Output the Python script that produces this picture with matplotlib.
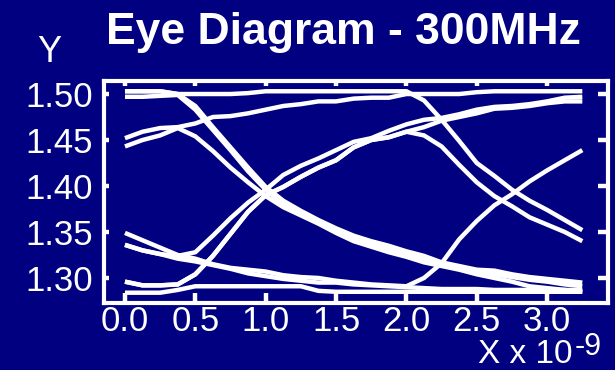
import matplotlib
matplotlib.use("Agg")
import matplotlib.pyplot as plt

# sample times (units of 1e-9 s)
t_ns = [0.0, 0.125, 0.25, 0.375, 0.5, 0.625, 0.75, 0.875, 1.0, 1.125, 1.25,
        1.375, 1.5, 1.625, 1.75, 1.875, 2.0, 2.125, 2.25, 2.375, 2.5, 2.625,
        2.75, 2.875, 3.0, 3.125, 3.25]

# one voltage trace per bit pattern
v_hhl = [1.503, 1.503, 1.503, 1.500, 1.500, 1.500, 1.500, 1.501, 1.503, 1.503,
         1.503, 1.503, 1.503, 1.503, 1.503, 1.503, 1.503, 1.493, 1.472, 1.449,
         1.425, 1.411, 1.396, 1.384, 1.374, 1.363, 1.352]
v_hll_a = [1.503, 1.503, 1.503, 1.500, 1.487, 1.464, 1.442, 1.420, 1.399, 1.384,
           1.373, 1.363, 1.354, 1.346, 1.340, 1.335, 1.329, 1.324, 1.317, 1.313,
           1.309, 1.308, 1.304, 1.301, 1.299, 1.297, 1.295]
v_hll_b = [1.497, 1.497, 1.498, 1.499, 1.483, 1.461, 1.439, 1.416, 1.396, 1.380,
           1.370, 1.360, 1.351, 1.342, 1.337, 1.332, 1.326, 1.321, 1.315, 1.311,
           1.307, 1.304, 1.301, 1.298, 1.296, 1.293, 1.291]
v_rhh = [1.452, 1.459, 1.463, 1.464, 1.468, 1.475, 1.476, 1.479, 1.483, 1.487,
         1.489, 1.492, 1.492, 1.495, 1.496, 1.496, 1.500, 1.500, 1.500, 1.500,
         1.502, 1.503, 1.503, 1.503, 1.503, 1.503, 1.503]
v_rll = [1.443, 1.450, 1.455, 1.463, 1.454, 1.438, 1.420, 1.404, 1.389, 1.377,
         1.368, 1.359, 1.349, 1.340, 1.334, 1.328, 1.323, 1.317, 1.313, 1.309,
         1.304, 1.300, 1.296, 1.291, 1.289, 1.287, 1.285]
v_flh = [1.349, 1.341, 1.333, 1.325, 1.321, 1.315, 1.311, 1.309, 1.307, 1.303,
         1.301, 1.300, 1.297, 1.295, 1.293, 1.292, 1.291, 1.300, 1.316, 1.342,
         1.362, 1.379, 1.391, 1.405, 1.417, 1.428, 1.439]
v_fhh = [1.336, 1.330, 1.326, 1.324, 1.328, 1.346, 1.365, 1.382, 1.396, 1.412,
         1.422, 1.430, 1.439, 1.448, 1.452, 1.460, 1.467, 1.472, 1.474, 1.478,
         1.483, 1.486, 1.487, 1.489, 1.492, 1.496, 1.497]
v_fll = [1.336, 1.330, 1.326, 1.321, 1.318, 1.314, 1.310, 1.305, 1.302, 1.299,
         1.297, 1.295, 1.295, 1.293, 1.292, 1.291, 1.290, 1.289, 1.288, 1.288,
         1.288, 1.287, 1.287, 1.287, 1.287, 1.287, 1.287]
v_lhh = [1.296, 1.292, 1.292, 1.293, 1.304, 1.324, 1.348, 1.372, 1.390, 1.399,
         1.410, 1.420, 1.428, 1.442, 1.450, 1.453, 1.459, 1.464, 1.471, 1.475,
         1.479, 1.484, 1.485, 1.487, 1.490, 1.492, 1.492]
v_lhl = [1.296, 1.292, 1.292, 1.293, 1.304, 1.324, 1.348, 1.372, 1.390, 1.399,
         1.410, 1.420, 1.428, 1.442, 1.450, 1.453, 1.459, 1.455, 1.443, 1.423,
         1.404, 1.389, 1.378, 1.366, 1.358, 1.350, 1.340]
v_lll = [1.284, 1.284, 1.284, 1.287, 1.291, 1.291, 1.291, 1.291, 1.291, 1.291,
         1.291, 1.286, 1.285, 1.285, 1.285, 1.285, 1.285, 1.285, 1.285, 1.285,
         1.285, 1.285, 1.285, 1.285, 1.285, 1.285, 1.285]

traces = [v_hhl, v_hll_a, v_hll_b, v_rhh, v_rll, v_flh, v_fhh, v_fll,
          v_lhh, v_lhl, v_lll]

x_ticks = [0.0, 0.5, 1.0, 1.5, 2.0, 2.5, 3.0]
y_ticks = [1.30, 1.35, 1.40, 1.45, 1.50]

NAVY = "#000080"
FONT = "Liberation Sans"

fig = plt.figure(figsize=(6.15, 3.70), dpi=100)
fig.patch.set_facecolor(NAVY)
W, H = 615.0, 370.0
ax = fig.add_axes([104 / W, 1 - 303 / H, (607.5 - 104) / W, (303 - 80.5) / H])
ax.set_facecolor(NAVY)

for v in traces:
    ax.plot(t_ns, v, color="white", lw=3.2, solid_capstyle="butt",
            solid_joinstyle="miter")

ax.set_xlim(-0.149, 3.429)
ax.set_ylim(1.2728, 1.5147)

for s in ax.spines.values():
    s.set_color("white")
    s.set_linewidth(3.0)

ax.set_xticks(x_ticks)
ax.set_xticklabels([f"{v:.1f}" for v in x_ticks])
ax.set_yticks(y_ticks)
ax.set_yticklabels([f"{v:.2f}" for v in y_ticks])
ax.tick_params(axis="both", which="both", direction="in", colors="white",
               width=3.2, labelsize=25, top=True, right=True)
ax.tick_params(axis="x", pad=1.5)
ax.tick_params(axis="y", pad=8.0)
for tk in ax.xaxis.get_major_ticks():
    tk.tick1line.set_markersize(7.5)
    tk.tick2line.set_markersize(3.6)
for tk in ax.yaxis.get_major_ticks():
    tk.tick1line.set_markersize(3.6)
    tk.tick2line.set_markersize(7.5)
for lab in ax.get_xticklabels() + ax.get_yticklabels():
    lab.set_fontfamily(FONT)
    lab.set_color("white")

fig.text(343 / W, 1 - 44 / H, "Eye Diagram - 300MHz", ha="center",
         va="baseline", color="white", fontsize=32, fontweight="bold",
         family=FONT)
fig.text(37 / W, 1 - 62 / H, "Y", ha="left", va="baseline", color="white",
         fontsize=26, family=FONT)
fig.text(573 / W, 1 - 363 / H, "X x 10", ha="right", va="baseline",
         color="white", fontsize=24, family=FONT)
fig.text(575 / W, 1 - 355 / H, "-9", ha="left", va="baseline",
         color="white", fontsize=22, family=FONT)

fig.savefig("out.png", dpi=100, facecolor=NAVY)
